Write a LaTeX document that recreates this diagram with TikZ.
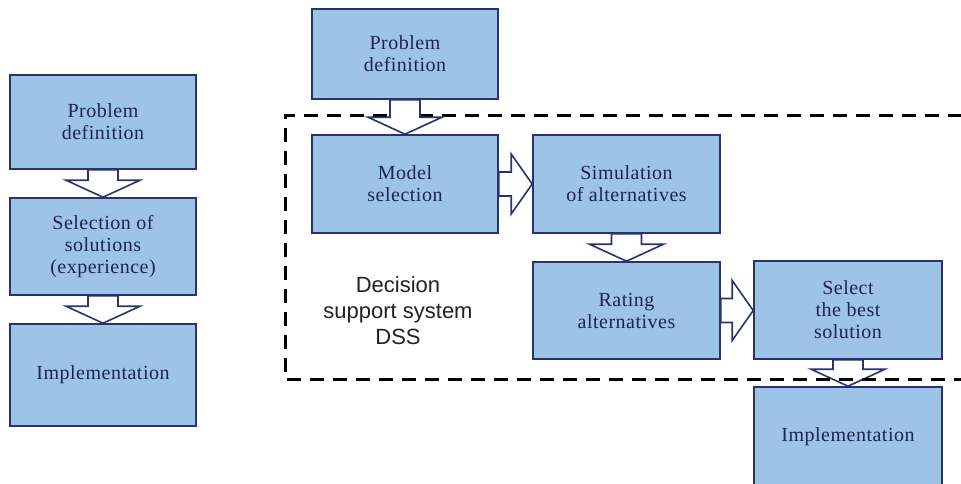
\documentclass[tikz,border=0pt]{standalone}
\usepackage{fontspec}
\setmainfont[LetterSpace=2.5]{Liberation Serif}
\newfontfamily\labelsans{Liberation Sans}
\usetikzlibrary{calc}

\definecolor{boxfill}{RGB}{157,195,230}
\definecolor{boxline}{RGB}{42,50,112}
\definecolor{boxtext}{RGB}{30,36,82}
\definecolor{dsstext}{RGB}{34,34,34}

\tikzset{
  stepbox/.style={draw=boxline, fill=boxfill, line width=1.6pt,
    minimum width=186pt, align=center, text=boxtext, inner sep=0pt,
    font=\fontsize{20}{22}\selectfont},
  blockarrow/.style={draw=boxline, fill=white, line width=1.6pt, line join=miter},
  dssframe/.style={draw=black, line width=3pt, dash pattern=on 14pt off 9pt}
}

% hollow block arrow pointing down, from the bottom of #1 to the top of #2
\newcommand{\downblock}[2]{%
  \path[blockarrow] let \p1=(#1.south), \p2=(#2.north) in
    (\x1-15pt,\y1) -- (\x1-15pt,\y2+17pt) -- (\x1-37pt,\y2+17pt) --
    (\x1,\y2) -- (\x1+37pt,\y2+17pt) -- (\x1+15pt,\y2+17pt) --
    (\x1+15pt,\y1) -- cycle;}
% hollow block arrow pointing right, from the right side of #1 to the left of #2
\newcommand{\rightblock}[2]{%
  \path[blockarrow] let \p1=(#1.east), \p2=(#2.west) in
    (\x1,\y1+12pt) -- (\x2-21pt,\y1+12pt) -- (\x2-21pt,\y1+30pt) --
    (\x2,\y1) -- (\x2-21pt,\y1-30pt) -- (\x2-21pt,\y1-12pt) --
    (\x1,\y1-12pt) -- cycle;}
% open outline of the decision support system
\newcommand{\dssoutline}{(962,115) -- (285,115) -- (285,379) -- (962,379)}

\begin{document}
\begin{tikzpicture}[x=1pt,y=-1pt]
  \useasboundingbox (0,0) rectangle (961,483);
  \clip (0,0) rectangle (961,483);
  \fill[white] (0,0) rectangle (961,483);

  % conventional process
  \node[stepbox, minimum height=94pt]  (lp) at (103,122)   {Problem\\definition};
  \node[stepbox, minimum height=97pt]  (ls) at (103,246.5) {Selection of\\solutions\\(experience)};
  \node[stepbox, minimum height=102pt] (li) at (103,375)   {Implementation};

  % process supported by a DSS
  \node[stepbox, minimum height=90pt] (rp) at (405,54)      {Problem\\definition};
  \node[stepbox, minimum height=98pt] (ms) at (405,184)     {Model\\selection};
  \node[stepbox, minimum height=98pt, minimum width=187pt] (sa) at (626.5,184)   {Simulation\\of alternatives};
  \node[stepbox, minimum height=97pt, minimum width=187pt] (ra) at (626.5,310.5) {Rating\\alternatives};
  \node[stepbox, minimum height=98pt, minimum width=188pt] (sb) at (848,310)     {Select\\the best\\solution};
  \node[stepbox, minimum height=100pt, minimum width=188pt] (ri) at (848,437)    {Implementation};

  % boundary of the decision support system
  \path[dssframe] \dssoutline;
  \node[text=dsstext, align=center, font=\labelsans\fontsize{22}{26}\selectfont]
    (dss) at (398,311) {Decision\\support system\\DSS};

  % flow arrows
  \downblock{lp}{ls}
  \downblock{ls}{li}
  \downblock{rp}{ms}
  \rightblock{ms}{sa}
  \downblock{sa}{ra}
  \rightblock{ra}{sb}
  \downblock{sb}{ri}

  % the lower boundary runs across the last arrow head
  \begin{scope}
    \clip (805,368) rectangle (895,390);
    \path[dssframe] \dssoutline;
  \end{scope}
\end{tikzpicture}
\end{document}
